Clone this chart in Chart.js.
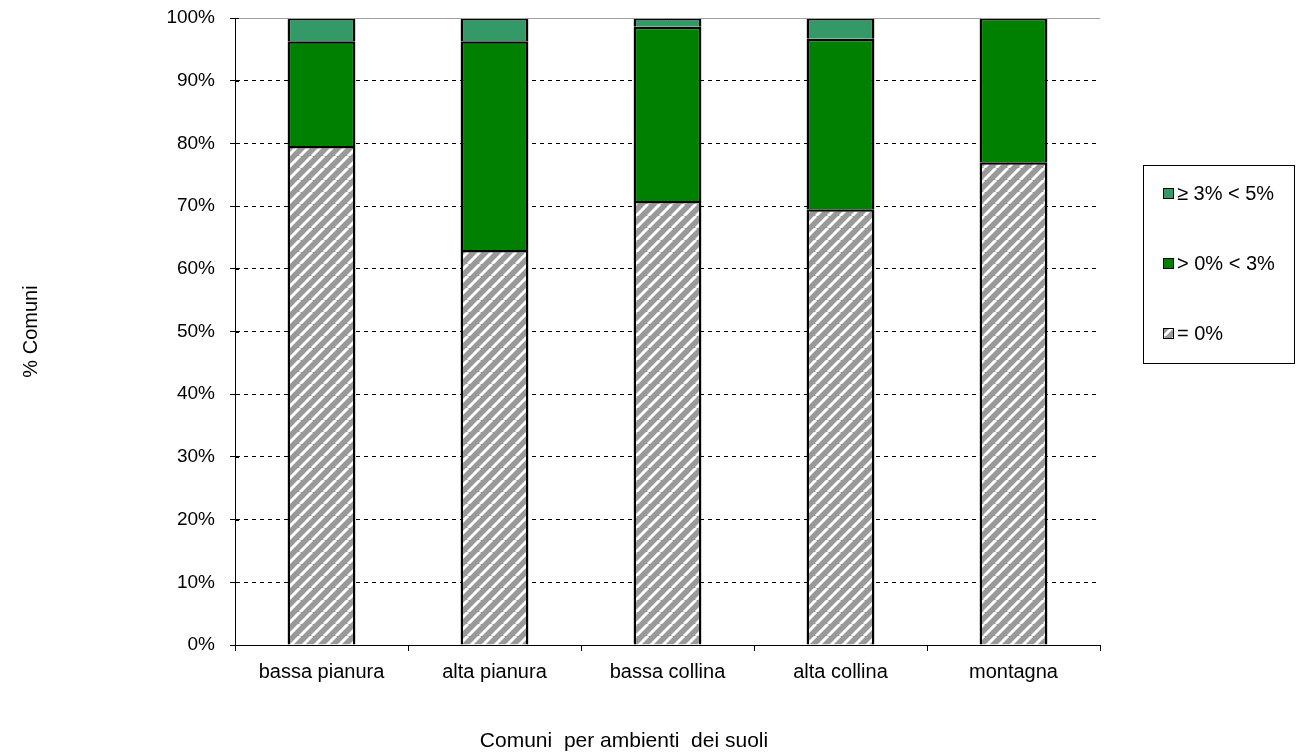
<!DOCTYPE html>
<html>
<head>
<meta charset="utf-8">
<script src="https://cdn.jsdelivr.net/npm/chart.js@4"></script>
<style>
  html, body { margin: 0; padding: 0; background: #fff; }
  #wrap { width: 1303px; height: 753px; }
</style>
</head>
<body>
<div id="wrap"><canvas id="chart"></canvas></div>
<script>
const categories = ["bassa pianura", "alta pianura", "bassa collina", "alta collina", "montagna"];
const zeroPct = [79.6, 63.0, 70.8, 69.5, 77.0];
const lowPct = [16.7, 33.3, 27.8, 27.2, 23.0];
const midPct = [3.7, 3.7, 1.4, 3.3, 0];
const seriesLabels = ["= 0%", "> 0% < 3%", "\u2265 3% < 5%"];
const xTitle = "Comuni  per ambienti  dei suoli";
const yTitle = "% Comuni";

const FONT = "'Liberation Sans', Arial, sans-serif";

// grey / white diagonal hatch
function makeHatch() {
  const size = 12;
  const c = document.createElement("canvas");
  c.width = size; c.height = size;
  const g = c.getContext("2d");
  g.fillStyle = "#999999";
  g.fillRect(0, 0, size, size);
  g.strokeStyle = "#ffffff";
  g.lineWidth = 3;
  for (let k = -1; k <= 1; k++) {
    g.beginPath();
    g.moveTo(k * size, size);
    g.lineTo(k * size + size, 0);
    g.stroke();
  }
  return g.createPattern(c, "repeat");
}
const hatch = makeHatch();

const boxLegend = {
  id: "boxLegend",
  afterDraw(chart) {
    const ctx = chart.ctx;
    const x = 1143, y = 165, w = 151, h = 198;
    ctx.save();
    ctx.strokeStyle = "#000";
    ctx.lineWidth = 1;
    ctx.strokeRect(x + 0.5, y + 0.5, w, h);
    const ds = chart.data.datasets.slice().reverse();
    ctx.font = "20px " + FONT;
    ctx.textBaseline = "middle";
    ds.forEach((d, i) => {
      const cy = y + 28 + i * 70;
      ctx.fillStyle = d.backgroundColor;
      ctx.fillRect(1163, cy - 5, 11, 11);
      ctx.strokeStyle = "#000";
      ctx.strokeRect(1163.5, cy - 4.5, 10, 10);
      ctx.fillStyle = "#000";
      ctx.fillText(d.label, 1177, cy + 1);
    });
    const a = chart.chartArea;
    // solid top line at 100%
    ctx.strokeStyle = "#a0a0a0";
    ctx.beginPath();
    ctx.moveTo(a.left, a.top + 0.5);
    ctx.lineTo(a.right, a.top + 0.5);
    ctx.stroke();
    // inner half of the crossing y tick marks
    const ys = chart.scales.y;
    ctx.strokeStyle = "#000";
    ctx.beginPath();
    ys.ticks.forEach((t) => {
      const py = Math.round(ys.getPixelForValue(t.value)) + 0.5;
      ctx.moveTo(a.left, py);
      ctx.lineTo(a.left + 4, py);
    });
    ctx.stroke();
    // x axis title, set left of the plot centre as in the original
    ctx.font = "21px " + FONT;
    ctx.fillStyle = "#000";
    ctx.textAlign = "center";
    ctx.textBaseline = "middle";
    ctx.fillText(xTitle, 624, 741);
    ctx.restore();
  }
};

new Chart(document.getElementById("chart"), {
  type: "bar",
  data: {
    labels: categories,
    datasets: [
      { label: seriesLabels[0], data: zeroPct, backgroundColor: hatch },
      { label: seriesLabels[1], data: lowPct, backgroundColor: "#008000" },
      { label: seriesLabels[2], data: midPct, backgroundColor: "#339966" }
    ]
  },
  options: {
    responsive: true,
    maintainAspectRatio: false,
    animation: false,
    layout: { padding: { top: 18, right: 203, left: 0, bottom: 0 } },
    datasets: {
      bar: {
        borderColor: "#000",
        borderWidth: 2.5,
        borderSkipped: "start",
        categoryPercentage: 0.8,
        barPercentage: 0.49
      }
    },
    plugins: {
      legend: { display: false },
      tooltip: { enabled: false }
    },
    scales: {
      x: {
        stacked: true,
        afterFit(s) { s.height = 108; s.paddingLeft = 0; s.paddingRight = 0; },
        grid: {
          offset: true,
          drawOnChartArea: false,
          color: "#000",
          tickLength: 6
        },
        border: { color: "#000", width: 1 },
        ticks: { color: "#000", padding: 9, font: { family: FONT, size: 20 } }
      },
      y: {
        stacked: true,
        min: 0,
        max: 100,
        afterFit(s) { s.width = 235; s.paddingTop = 0; s.paddingBottom = 0; },
        grid: {
          color: (c) => (c.tick && c.tick.value === 100 ? "rgba(0,0,0,0)" : "#000"),
          tickColor: "#000",
          tickLength: 5
        },
        border: { color: "#000", width: 1, dash: [4, 4] },
        ticks: {
          stepSize: 10,
          color: "#000",
          padding: 15,
          font: { family: FONT, size: 19 },
          callback: (v) => v + "%"
        },
        title: {
          display: true,
          text: yTitle,
          color: "#000",
          font: { family: FONT, size: 20 },
          padding: { top: 19, bottom: 0 }
        }
      }
    }
  },
  plugins: [boxLegend]
});
</script>
</body>
</html>
